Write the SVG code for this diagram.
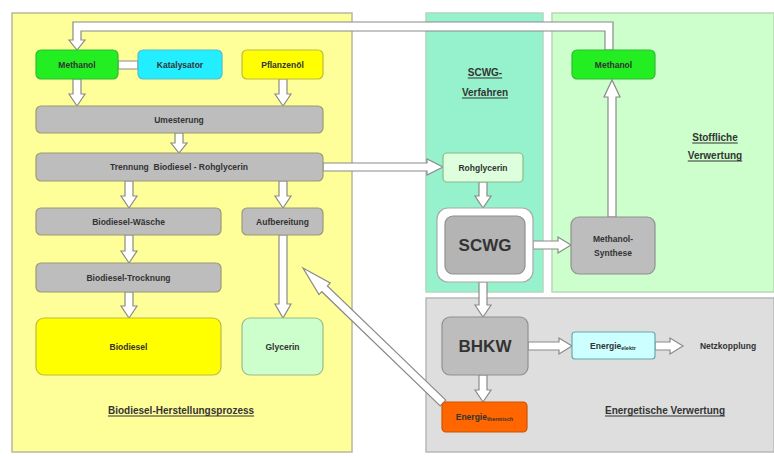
<svg xmlns="http://www.w3.org/2000/svg" width="774" height="456" viewBox="0 0 774 456">
<style>
text{font-family:"Liberation Sans",Arial,sans-serif;font-weight:bold;text-anchor:middle;dominant-baseline:central}
.lbl{font-size:8.5px;fill:#333}
.big{font-size:17px;fill:#333}
.ttl{font-size:10px;fill:#333;text-decoration:underline}
.arr{fill:#fff;stroke:#8a8a8a;stroke-width:1.2;stroke-linejoin:miter}
.gray{fill:#bdbdbd;stroke:#9a9a78;stroke-width:1.2}
</style>
<rect width="774" height="456" fill="#fff"/>
<g id="panels">
<rect x="12" y="13" width="340" height="439" fill="#ffff99" stroke="#b8b8a0" stroke-width="1.5"/>
<rect x="426" y="13" width="117" height="279" fill="#96f2cc" stroke="#b0d8c0" stroke-width="1.5"/>
<rect x="552" y="13" width="222" height="279" fill="#ccffcc" stroke="#b8d8b8" stroke-width="1.5"/>
<rect x="426" y="298" width="348" height="154" fill="#dedede" stroke="#b8b8b8" stroke-width="1.5"/>
<text class="ttl" x="181" y="410">Biodiesel-Herstellungsprozess</text>
<text class="ttl" x="485" y="72">SCWG-</text>
<text class="ttl" x="485" y="92">Verfahren</text>
<text class="ttl" x="715" y="137">Stoffliche</text>
<text class="ttl" x="715" y="155">Verwertung</text>
<text class="ttl" x="665" y="410">Energetische Verwertung</text>
</g>
<g id="connectors">
<path class="arr" d="M605,50 V31 H81 V40 H85 L77,50 L69,40 H73 V22 H613 V50 Z"/>
<path class="arr" d="M608,217 V97 H604 L612,80 L620,97 H616 V217 Z"/>
<path class="arr" d="M118,61 H138 V69 H118 Z"/>
<path class="arr" d="M73,79 V94 H69 L77,106 L85,94 H81 V79 Z"/>
<path class="arr" d="M279,79 V94 H275 L283,106 L291,94 H287 V79 Z"/>
<path class="arr" d="M175,133 V143 H171 L179,153 L187,143 H183 V133 Z"/>
<path class="arr" d="M125,181 V196 H121 L129,208 L137,196 H133 V181 Z"/>
<path class="arr" d="M279,181 V196 H275 L283,208 L291,196 H287 V181 Z"/>
<path class="arr" d="M125,235 V251 H121 L129,263 L137,251 H133 V235 Z"/>
<path class="arr" d="M125,292 V306 H121 L129,318 L137,306 H133 V292 Z"/>
<path class="arr" d="M279,235 V304 H275 L283,318 L291,304 H287 V235 Z"/>
<path class="arr" d="M323,163 H427 V159 L443,167 L427,175 V171 H323 Z"/>
<path class="arr" d="M479,182 V196 H475 L483,208 L491,196 H487 V182 Z"/>
<path class="arr" d="M533,241 H558 V237 L571,245 L558,253 V249 H533 Z"/>
<path class="arr" d="M479,282 V305 H475 L483,317 L491,305 H487 V282 Z"/>
<path class="arr" d="M528,342 H559 V338 L572,346 L559,354 V350 H528 Z"/>
<path class="arr" d="M655,342 H670 V338 L683,346 L670,354 V350 H655 Z"/>
<path class="arr" d="M479,375 V390 H475 L483,402 L491,390 H487 V375 Z"/>
<path class="arr" d="M445.8,400.1 L327.4,285.9 L330.2,283 L303,268 L319,294.6 L321.8,291.7 L440.2,405.9 Z"/>
</g>
<g id="methanol-left"><rect x="36" y="50" width="82" height="29" rx="5" fill="#22ee22" stroke="#33bb33" stroke-width="1.2"/><text class="lbl" x="77" y="64.5">Methanol</text></g>
<g id="katalysator"><rect x="138" y="50" width="84" height="29" rx="5" fill="#22eeff" stroke="#55bbcc" stroke-width="1.2"/><text class="lbl" x="180" y="64.5">Katalysator</text></g>
<g id="pflanzenoel"><rect x="242" y="50" width="81" height="29" rx="5" fill="#ffff00" stroke="#bbbb44" stroke-width="1.2"/><text class="lbl" x="282.5" y="64.5">Pflanzenöl</text></g>
<g id="umesterung"><rect class="gray" x="36" y="106" width="287" height="27" rx="5"/><text class="lbl" x="179" y="119.5">Umesterung</text></g>
<g id="trennung"><rect class="gray" x="36" y="153" width="287" height="28" rx="5"/><text class="lbl" x="179" y="167" xml:space="preserve">Trennung  Biodiesel - Rohglycerin</text></g>
<g id="waesche"><rect class="gray" x="36" y="208" width="185" height="27" rx="5"/><text class="lbl" x="128.5" y="221.5">Biodiesel-Wäsche</text></g>
<g id="aufbereitung"><rect class="gray" x="242" y="208" width="81" height="27" rx="5"/><text class="lbl" x="282.5" y="221.5">Aufbereitung</text></g>
<g id="trocknung"><rect class="gray" x="36" y="263" width="185" height="29" rx="5"/><text class="lbl" x="128.5" y="277.5">Biodiesel-Trocknung</text></g>
<g id="biodiesel"><rect x="36" y="318" width="185" height="57" rx="8" fill="#ffff00" stroke="#bbbb44" stroke-width="1.2"/><text class="lbl" x="128.5" y="346.5">Biodiesel</text></g>
<g id="glycerin"><rect x="242" y="318" width="81" height="57" rx="8" fill="#ccffcc" stroke="#99bb88" stroke-width="1.2"/><text class="lbl" x="282.5" y="346.5">Glycerin</text></g>
<g id="rohglycerin"><rect x="443" y="153" width="80" height="29" rx="4" fill="#ddffdd" stroke="#88bb88" stroke-width="1.2"/><text class="lbl" x="483" y="167.5" fill="#2a4a2a">Rohglycerin</text></g>
<g id="scwg"><rect x="437" y="208" width="96" height="74" rx="11" fill="#fff" stroke="#aaaaaa" stroke-width="1.2"/><rect x="445" y="216" width="80" height="58" rx="8" fill="#b4b4b4" stroke="#909090" stroke-width="1.2"/><text class="big" x="485" y="245.5">SCWG</text></g>
<g id="methanol-right"><rect x="572" y="50" width="83" height="29" rx="5" fill="#22ee22" stroke="#33bb33" stroke-width="1.2"/><text class="lbl" x="613.5" y="64.5">Methanol</text></g>
<g id="methanol-synthese"><rect x="571" y="217" width="84" height="57" rx="8" fill="#bdbdbd" stroke="#909090" stroke-width="1.2"/><text class="lbl" x="613" y="239">Methanol-</text><text class="lbl" x="613" y="253">Synthese</text></g>
<g id="bhkw"><rect x="442" y="317" width="86" height="58" rx="8" fill="#bdbdbd" stroke="#909090" stroke-width="1.2"/><text class="big" x="485" y="346.5">BHKW</text></g>
<g id="energie-elektr"><rect x="572" y="332" width="83" height="27" rx="3" fill="#ccffff" stroke="#66aaaa" stroke-width="1.2"/><text class="lbl" x="613" y="345.5" fill="#1a5a5a">Energie<tspan font-size="5.5px" dy="2">elektr</tspan></text></g>
<g id="netzkopplung"><text class="lbl" x="728" y="346">Netzkopplung</text></g>
<g id="energie-thermisch"><rect x="442" y="402" width="85" height="30" rx="4" fill="#ff6600" stroke="#cc5500" stroke-width="1.2"/><text class="lbl" x="484.5" y="416.5" fill="#662200">Energie<tspan font-size="5.5px" dy="2">thermisch</tspan></text></g>
</svg>
